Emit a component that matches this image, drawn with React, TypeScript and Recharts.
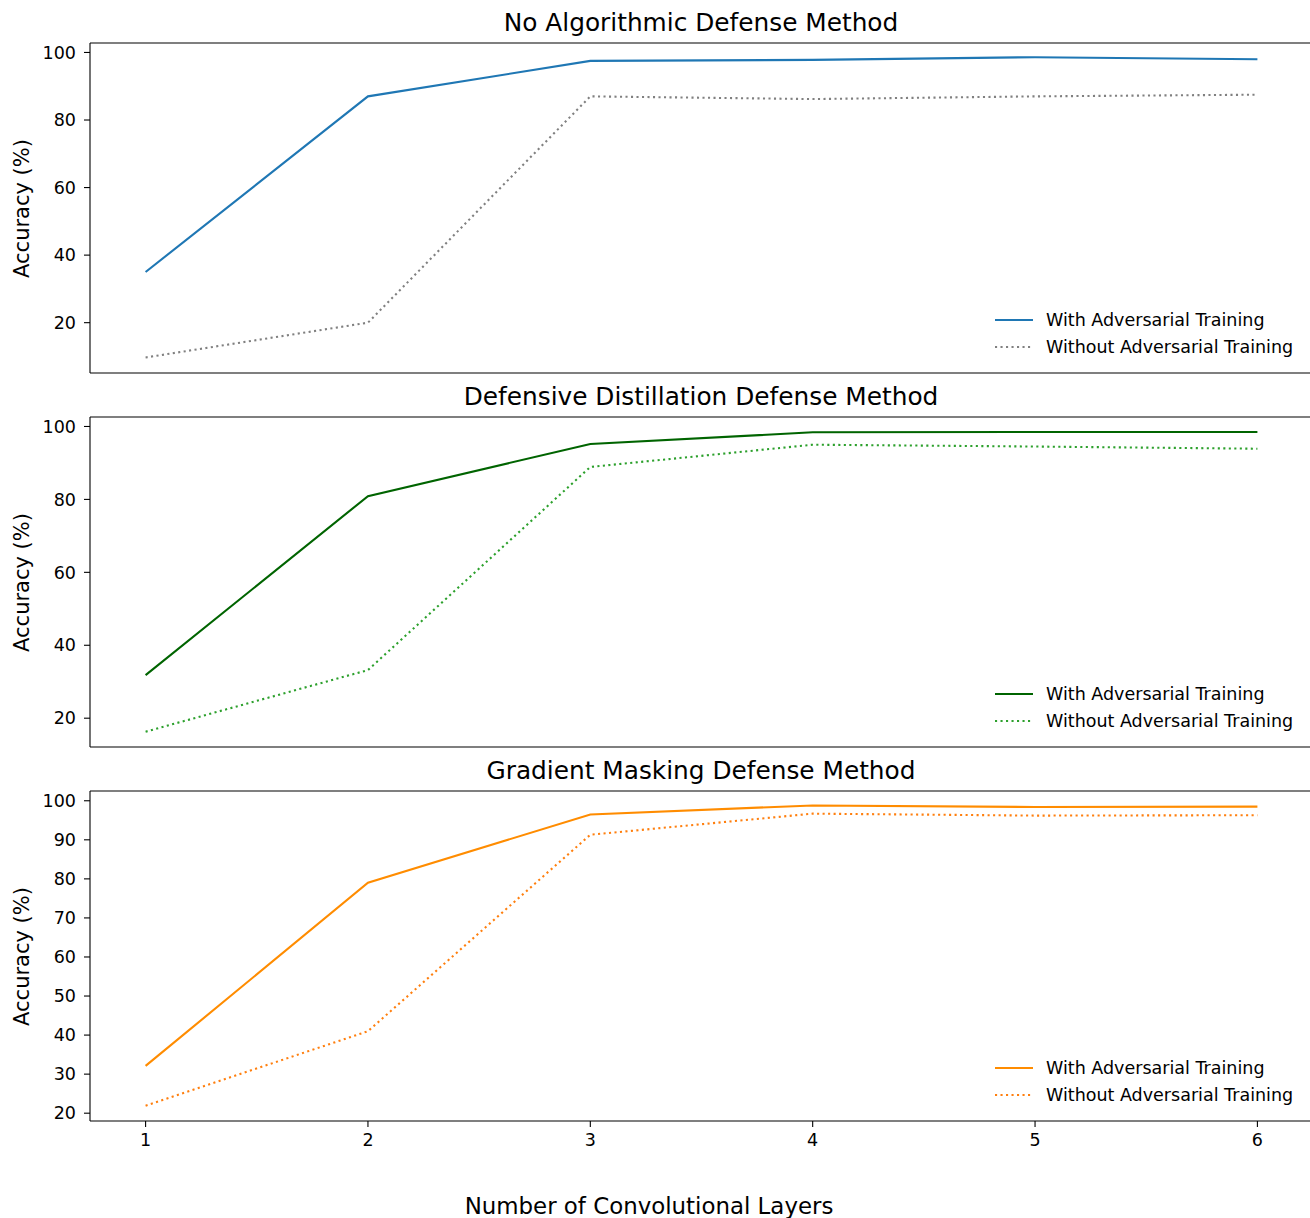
import { Legend, Line, LineChart, ReferenceLine, XAxis, YAxis } from 'recharts';

const layers = [1, 2, 3, 4, 5, 6];

const noDefenseWith = [35, 87, 97.5, 97.8, 98.6, 98.0];
const noDefenseWithout = [9.7, 20, 87, 86.2, 87, 87.5];
const distillationWith = [31.8, 80.9, 95.2, 98.4, 98.5, 98.5];
const distillationWithout = [16.3, 33.2, 88.9, 95, 94.5, 93.9];
const maskingWith = [32.1, 79, 96.5, 98.8, 98.4, 98.5];
const maskingWithout = [21.9, 41, 91.3, 96.7, 96.2, 96.3];

const ticks20 = [20, 40, 60, 80, 100];
const ticks10 = [20, 30, 40, 50, 60, 70, 80, 90, 100];

const FONT = '"DejaVu Sans", sans-serif';
const PLOT_H = 330;
const CHART_W = 1330;
const DOTTED = '2.1 3.4';
const TICK_FS = 17.5;
const PAD = 3;

type PanelProps = {
  title: string;
  withAdv: number[];
  withoutAdv: number[];
  yDomain: [number, number];
  yTicks: number[];
  withColor: string;
  withoutColor: string;
  top: number;
  showXLabels: boolean;
};

const LegendBox = ({ withColor, withoutColor }: { withColor: string; withoutColor: string }) => {
  const rows = [
    { label: 'With Adversarial Training', color: withColor, dash: undefined },
    { label: 'Without Adversarial Training', color: withoutColor, dash: DOTTED },
  ];
  return (
    <div style={{ fontFamily: FONT, fontSize: TICK_FS, color: '#000' }}>
      {rows.map((r) => (
        <div key={r.label} style={{ display: 'flex', alignItems: 'center', height: 27, whiteSpace: 'nowrap' }}>
          <svg width={38} height={10} style={{ display: 'block' }}>
            <line x1={0} x2={38} y1={5} y2={5} stroke={r.color} strokeWidth={2.1} strokeDasharray={r.dash} />
          </svg>
          <span style={{ marginLeft: 13 }}>{r.label}</span>
        </div>
      ))}
    </div>
  );
};

const Panel = ({ title, withAdv, withoutAdv, yDomain, yTicks, withColor, withoutColor, top, showXLabels }: PanelProps) => {
  const data = layers.map((l, i) => ({ layers: l, with: withAdv[i], without: withoutAdv[i] }));
  const xAxisH = showXLabels ? 40 : 10;
  return (
    <>
      <div
        style={{
          position: 'absolute',
          left: 90,
          width: 1222,
          top: top - 32,
          textAlign: 'center',
          fontSize: 24.8,
          lineHeight: '24.8px',
          whiteSpace: 'nowrap',
        }}
      >
        {title}
      </div>
      <div
        style={{
          position: 'absolute',
          left: 22 - PLOT_H / 2,
          top: top + PLOT_H / 2 - 10.5,
          width: PLOT_H,
          fontSize: 21,
          lineHeight: '21px',
          textAlign: 'center',
          transform: 'rotate(-90deg)',
        }}
      >
        Accuracy (%)
      </div>
      <div style={{ position: 'absolute', left: 0, top: top - PAD }}>
        <LineChart
          width={CHART_W}
          height={PLOT_H + xAxisH + PAD}
          data={data}
          margin={{ top: PAD, right: 17, bottom: 0, left: 0 }}
        >
          <XAxis
            dataKey="layers"
            type="number"
            domain={[0.75, 6.25]}
            ticks={layers}
            allowDataOverflow
            height={xAxisH}
            axisLine={{ stroke: '#000', strokeWidth: 1.1 }}
            tickLine={{ stroke: '#000', strokeWidth: 1.1 }}
            tickSize={6}
            tickMargin={7}
            tick={showXLabels ? { fill: '#000', fontSize: TICK_FS, fontFamily: FONT } : false}
          />
          <YAxis
            type="number"
            domain={yDomain}
            ticks={yTicks}
            allowDataOverflow
            width={90}
            axisLine={{ stroke: '#000', strokeWidth: 1.1 }}
            tickLine={{ stroke: '#000', strokeWidth: 1.1 }}
            tickSize={6}
            tickMargin={8}
            tick={{ fill: '#000', fontSize: TICK_FS, fontFamily: FONT }}
          />
          <ReferenceLine y={yDomain[1]} stroke="#000" strokeWidth={1.1} ifOverflow="visible" />
          <Legend
            layout="horizontal"
            align="center"
            verticalAlign="middle"
            wrapperStyle={{ left: 995, top: 263 + PAD, width: 320 }}
            content={() => <LegendBox withColor={withColor} withoutColor={withoutColor} />}
          />
          <Line
            dataKey="with"
            name="With Adversarial Training"
            stroke={withColor}
            strokeWidth={2.1}
            dot={false}
            activeDot={false}
            isAnimationActive={false}
          />
          <Line
            dataKey="without"
            name="Without Adversarial Training"
            stroke={withoutColor}
            strokeWidth={2.1}
            strokeDasharray={DOTTED}
            dot={false}
            activeDot={false}
            isAnimationActive={false}
          />
        </LineChart>
      </div>
    </>
  );
};

export default function App() {
  return (
    <div
      style={{
        position: 'absolute',
        left: 0,
        top: 0,
        width: 1310,
        height: 1218,
        overflow: 'hidden',
        background: '#fff',
        fontFamily: FONT,
        color: '#000',
      }}
    >
      <Panel
        title="No Algorithmic Defense Method"
        withAdv={noDefenseWith}
        withoutAdv={noDefenseWithout}
        yDomain={[5.1, 102.8]}
        yTicks={ticks20}
        withColor="#1f77b4"
        withoutColor="gray"
        top={43}
        showXLabels={false}
      />
      <Panel
        title="Defensive Distillation Defense Method"
        withAdv={distillationWith}
        withoutAdv={distillationWithout}
        yDomain={[12.1, 102.6]}
        yTicks={ticks20}
        withColor="#006400"
        withoutColor="#2ca02c"
        top={417}
        showXLabels={false}
      />
      <Panel
        title="Gradient Masking Defense Method"
        withAdv={maskingWith}
        withoutAdv={maskingWithout}
        yDomain={[18, 102.5]}
        yTicks={ticks10}
        withColor="#ff8c00"
        withoutColor="#ff7f0e"
        top={791}
        showXLabels
      />
      <div
        style={{
          position: 'absolute',
          left: 0,
          width: 1298,
          top: 1195,
          textAlign: 'center',
          fontSize: 22.9,
          lineHeight: '22.9px',
        }}
      >
        Number of Convolutional Layers
      </div>
    </div>
  );
}
